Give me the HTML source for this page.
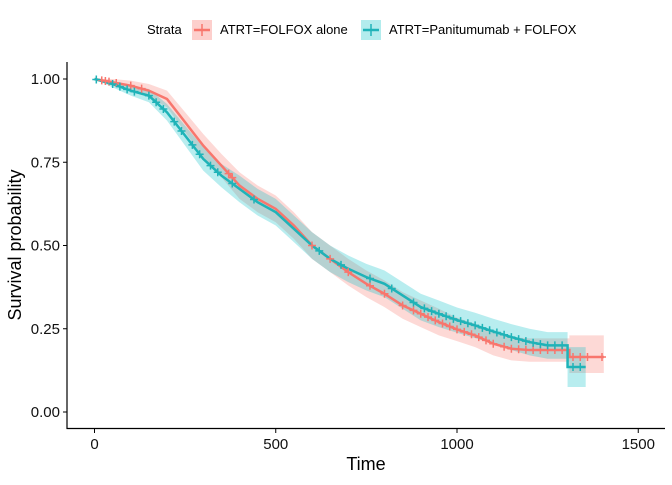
<!DOCTYPE html>
<html><head><meta charset="utf-8"><style>
body{margin:0;background:#fff;font-family:"Liberation Sans",Arial,sans-serif}
</style></head><body>
<svg id="chart" width="672" height="480" xmlns="http://www.w3.org/2000/svg" font-family="Liberation Sans, Arial, sans-serif">
<g id="bands"></g>
<g id="lines"></g>
<g id="censors"></g>
<g id="axes"></g>
<g>
<text x="147" y="34" font-size="13" fill="#000">Strata</text>
<g>
<rect x="192" y="20" width="20" height="20" fill="#F8766D" fill-opacity="0.35"/>
<line x1="194" y1="30" x2="210" y2="30" stroke="#F8766D" stroke-width="2.5"/><line x1="202" y1="24" x2="202" y2="36" stroke="#F8766D" stroke-width="1.5"/>
<text x="220" y="34" font-size="13">ATRT=FOLFOX alone</text></g>
<g>
<rect x="361" y="20" width="20" height="20" fill="#00BFC4" fill-opacity="0.3"/>
<line x1="363" y1="30" x2="379" y2="30" stroke="#1FB3B8" stroke-width="2.5"/><line x1="371" y1="24" x2="371" y2="36" stroke="#1FB3B8" stroke-width="1.5"/>
<text x="389" y="34" font-size="13">ATRT=Panitumumab + FOLFOX</text></g>
</g>
</svg>
<script>
const times=[0,50,100,150,200,250,300,350,400,450,500,550,600,650,700,750,800,850,900,950,1000,1050,1100,1150,1200,1250,1300];
const redSurv=[1,.99,.98,.965,.94,.87,.80,.74,.68,.64,.61,.56,.50,.46,.42,.385,.355,.32,.295,.27,.248,.23,.205,.19,.186,.186,.186];
const redLower=[1,.98,.965,.945,.915,.84,.765,.705,.64,.60,.57,.52,.46,.42,.38,.345,.315,.28,.255,.23,.213,.195,.17,.155,.151,.151,.151];
const redUpper=[1,1,.995,.985,.965,.90,.835,.775,.72,.68,.65,.60,.54,.50,.46,.425,.395,.36,.335,.31,.283,.265,.24,.225,.221,.221,.221];
const redTail={t:1310,s:.165,lo:.117,hi:.23,end:1405};
const tealSurv=[1,.985,.965,.95,.90,.83,.76,.71,.67,.63,.60,.55,.50,.46,.43,.405,.385,.35,.315,.295,.276,.26,.242,.225,.21,.20,.20];
const tealLower=[1,.975,.95,.93,.875,.80,.725,.675,.63,.59,.56,.51,.46,.42,.39,.365,.345,.31,.275,.255,.238,.222,.204,.186,.17,.16,.16];
const tealUpper=[1,.995,.98,.97,.925,.86,.795,.745,.71,.67,.64,.59,.54,.50,.47,.445,.425,.39,.355,.335,.314,.298,.28,.264,.25,.24,.24];
const tealTail={t:1305,s:.135,lo:.075,hi:.195,end:1355};
const redCensor=[20,30,40,60,100,130,370,380,600,650,700,760,800,850,880,900,920,940,960,980,1000,1020,1040,1060,1080,1100,1130,1150,1170,1190,1210,1230,1250,1270,1290,1320,1340,1360,1400];
const tealCensor=[5,50,70,90,110,150,170,190,220,240,270,290,320,340,380,440,620,680,760,820,880,910,930,950,970,990,1010,1030,1050,1070,1090,1110,1130,1150,1170,1190,1210,1230,1250,1270,1290,1320,1340];
const xTicks=[0,500,1000,1500];
const yTicks=[0,0.25,0.5,0.75,1];
const yLabels=["0.00","0.25","0.50","0.75","1.00"];
const X=t=>94.5+t*0.3625, Y=s=>412-s*333;
const NS="http://www.w3.org/2000/svg";
function mk(tag,attrs,parent){const e=document.createElementNS(NS,tag);for(const k in attrs)e.setAttribute(k,attrs[k]);parent.appendChild(e);return e;}
function pts(arr,tailVal,tail){let p=[];for(let i=0;i<times.length;i++)p.push([X(times[i]),Y(arr[i])]);
 p.push([X(tail.t),Y(arr[arr.length-1])],[X(tail.t),Y(tailVal)],[X(tail.end),Y(tailVal)]);return p;}
function sAt(arr,tail,t){if(t>=tail.t)return tail.s;if(t>=times[times.length-1])return arr[arr.length-1];
 for(let i=0;i<times.length-1;i++)if(t>=times[i]&&t<=times[i+1]){const f=(t-times[i])/(times[i+1]-times[i]);return arr[i]+(arr[i+1]-arr[i])*f;}return arr[0];}
const series=[{surv:redSurv,lo:redLower,hi:redUpper,tail:redTail,c:"#F8766D",lc:"#F8766D",cens:redCensor,n:"folfox"},
{surv:tealSurv,lo:tealLower,hi:tealUpper,tail:tealTail,c:"#00BFC4",lc:"#1FB3B8",cens:tealCensor,n:"panitumumab"}];
const bands=document.getElementById('bands'),lines=document.getElementById('lines'),cg=document.getElementById('censors'),ax=document.getElementById('axes');
series.forEach(s=>{
 const up=pts(s.hi,s.tail.hi,s.tail),lo=pts(s.lo,s.tail.lo,s.tail).reverse();
 const b=mk('polygon',{points:up.concat(lo).map(p=>p.join(',')).join(' '),fill:s.c,'fill-opacity':0.28},bands);
 
 
 const l=mk('polyline',{points:pts(s.surv,s.tail.s,s.tail).map(p=>p.join(',')).join(' '),fill:'none',stroke:s.lc,'stroke-width':2.5},lines);
 
 
 s.cens.forEach(t=>{const x=X(t),y=Y(sAt(s.surv,s.tail,t));
  const g=mk('path',{d:`M${x-4},${y}H${x+4}M${x},${y-4}V${y+4}`,stroke:s.lc,'stroke-width':1.5},cg);
  
  });
});
mk('line',{x1:67,y1:62,x2:67,y2:429,stroke:'#000','stroke-width':1.2},ax);
mk('line',{x1:66.5,y1:428.5,x2:665,y2:428.5,stroke:'#000','stroke-width':1.2},ax);
xTicks.forEach(t=>{mk('line',{x1:X(t),y1:429,x2:X(t),y2:433,stroke:'#000'},ax);
 const tx=mk('text',{x:X(t),y:449,'font-size':15,'text-anchor':'middle',fill:'#111'},ax);tx.textContent=t;
 
 });
yTicks.forEach((v,i)=>{mk('line',{x1:63,y1:Y(v),x2:67,y2:Y(v),stroke:'#000'},ax);
 const tx=mk('text',{x:60,y:Y(v)+5,'font-size':15,'text-anchor':'end',fill:'#111'},ax);tx.textContent=yLabels[i];
 
 });
const xt=mk('text',{x:366,y:470,'font-size':18,'text-anchor':'middle'},ax);xt.textContent='Time';


const yt=mk('text',{x:0,y:0,'font-size':18,'text-anchor':'middle',transform:'translate(21,245) rotate(-90)'},ax);yt.textContent='Survival probability';


</script>
</body></html>
